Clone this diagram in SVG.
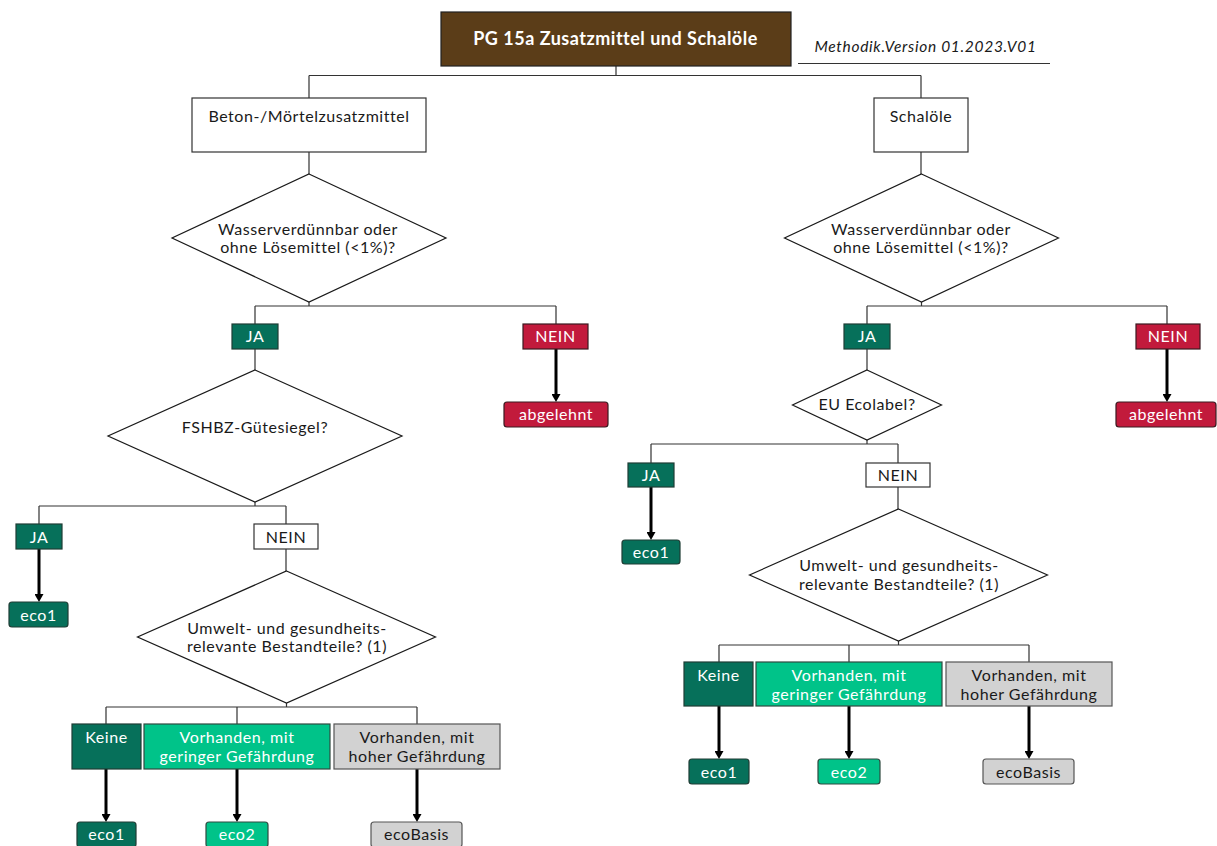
<svg xmlns="http://www.w3.org/2000/svg" width="1217" height="846" viewBox="0 0 1217 846">
<defs>
<style>
text{font-family:Lato,"Open Sans","Noto Sans",sans-serif;font-size:16px;letter-spacing:0.55px;text-anchor:middle;fill:#1a1a1a}
.w{fill:#fff}
.box{fill:#fff;stroke:#333;stroke-width:1.2}
.g{fill:#06705a;stroke:#1f3d35;stroke-width:1.2}
.r{fill:#c21a3c;stroke:#3a1a20;stroke-width:1.2}
.lg{fill:#00c389;stroke:#2f4a40;stroke-width:1.2}
.gr{fill:#d2d2d2;stroke:#555;stroke-width:1.2}
.dia{fill:#fff;stroke:#1a1a1a;stroke-width:1.2}
.ln{stroke:#333;stroke-width:1.2;fill:none}
.ar{stroke:#000;stroke-width:3;fill:none;marker-end:url(#ah)}
</style>
<marker id="ah" markerUnits="userSpaceOnUse" markerWidth="9" markerHeight="9" refX="2" refY="4.5" orient="auto">
<path d="M0,0 L8,4.5 L0,9 z" fill="#000"/>
</marker>
</defs>
<rect width="1217" height="846" fill="#fff"/>

<g id="connectors">
<path class="ln" d="M616,66 V75.5 M309,75.5 H921 M309,75.5 V98 M921,75.5 V98"/>
<path class="ln" d="M309,152 V174 M921,152 V174"/>
<path class="ln" d="M309,302 V306 M255,306 H556 M255,306 V324 M556,306 V324 M255,349 V370"/>
<path class="ar" d="M556,349 V396"/>
<path class="ln" d="M255,502 V506 M39,506 H286 M39,506 V524 M286,506 V524 M286,549 V571"/>
<path class="ar" d="M39,549 V596"/>
<path class="ln" d="M286.5,703 V707 M106,707 H417 M106,707 V724 M237,707 V724 M417,707 V724"/>
<path class="ar" d="M106,769 V816"/>
<path class="ar" d="M237,769 V816"/>
<path class="ar" d="M417,769 V816"/>
<path class="ln" d="M921.5,302 V306 M867,306 H1167 M867,306 V324 M1167,306 V324 M867,349 V370"/>
<path class="ar" d="M1167,349 V396"/>
<path class="ln" d="M867,440 V444 M651,444 H898 M651,444 V463 M898,444 V463 M898,487 V509"/>
<path class="ar" d="M651,487 V534"/>
<path class="ln" d="M898.5,641 V645 M719,645 H1029 M719,645 V662 M849,645 V662 M1029,645 V662"/>
<path class="ar" d="M719,706 V753"/>
<path class="ar" d="M849,706 V753"/>
<path class="ar" d="M1029,706 V753"/>
</g>

<g id="title">
<rect x="441" y="12" width="350" height="54" fill="#5b3d18" stroke="#222" stroke-width="1.2"/>
<text class="w" x="615.5" y="45" style="font-weight:bold;font-size:18px;letter-spacing:0.5px">PG 15a Zusatzmittel und Schalöle</text>
</g>
<g id="version">
<text x="925.5" y="52" style="font-style:italic;font-size:15.5px;letter-spacing:0.7px">Methodik.Version 01.2023.V01</text>
<line x1="798" y1="63.5" x2="1050" y2="63.5" stroke="#333" stroke-width="1.2"/>
</g>

<g id="beton">
<rect class="box" x="192" y="98" width="234" height="54"/>
<text x="309" y="121.5">Beton-/Mörtelzusatzmittel</text>
</g>
<g id="schaloele">
<rect class="box" x="874" y="98" width="94" height="54"/>
<text x="921" y="121.5">Schalöle</text>
</g>

<g id="q1-left">
<polygon class="dia" points="309,174 446,238 309,302 172,238"/>
<text x="308" y="235">Wasserverdünnbar oder</text>
<text x="308" y="253">ohne Lösemittel (&lt;1%)?</text>
</g>
<g id="ja1-left"><rect class="g" x="232" y="324" width="46" height="25"/><text class="w" x="255" y="342">JA</text></g>
<g id="nein1-left"><rect class="r" x="523" y="324" width="65" height="25"/><text class="w" x="555.5" y="342">NEIN</text></g>
<g id="abgelehnt-left"><rect class="r" x="504" y="402" width="104" height="25" rx="3"/><text class="w" x="556" y="420">abgelehnt</text></g>

<g id="q2-left">
<polygon class="dia" points="255,370 402,436 255,502 108,436"/>
<text x="255" y="433">FSHBZ-Gütesiegel?</text>
</g>
<g id="ja2-left"><rect class="g" x="16" y="524" width="46" height="25"/><text class="w" x="39" y="542.5">JA</text></g>
<g id="nein2-left"><rect class="box" x="254" y="524" width="64" height="25"/><text x="286" y="542.5">NEIN</text></g>
<g id="eco1-a"><rect class="g" x="9" y="602" width="59" height="25" rx="3"/><text class="w" x="38.5" y="621">eco1</text></g>

<g id="q3-left">
<polygon class="dia" points="286.5,571 435.5,637 286.5,703 137.5,637"/>
<text x="287" y="634">Umwelt- und gesundheits-</text>
<text x="287" y="652">relevante Bestandteile? (1)</text>
</g>
<g id="keine-left"><rect class="g" x="72" y="724" width="69" height="45"/><text class="w" x="106.5" y="743">Keine</text></g>
<g id="gering-left"><rect class="lg" x="144" y="724" width="186" height="45"/><text class="w" x="237" y="743">Vorhanden, mit</text><text class="w" x="237" y="762">geringer Gefährdung</text></g>
<g id="hoch-left"><rect class="gr" x="334" y="724" width="166" height="45"/><text x="417" y="743">Vorhanden, mit</text><text x="417" y="762">hoher Gefährdung</text></g>
<g id="eco1-b"><rect class="g" x="77" y="822" width="59" height="25" rx="3"/><text class="w" x="106.5" y="840">eco1</text></g>
<g id="eco2-a"><rect class="lg" x="206" y="822" width="62" height="25" rx="3"/><text class="w" x="237" y="840">eco2</text></g>
<g id="ecobasis-a"><rect class="gr" x="371" y="822" width="91" height="25" rx="3"/><text x="416.5" y="840">ecoBasis</text></g>

<g id="q1-right">
<polygon class="dia" points="921.5,174 1058.5,238 921.5,302 784.5,238"/>
<text x="921" y="235">Wasserverdünnbar oder</text>
<text x="921" y="253">ohne Lösemittel (&lt;1%)?</text>
</g>
<g id="ja1-right"><rect class="g" x="844" y="324" width="46" height="25"/><text class="w" x="867" y="342">JA</text></g>
<g id="nein1-right"><rect class="r" x="1136" y="324" width="64" height="25"/><text class="w" x="1168" y="342">NEIN</text></g>
<g id="abgelehnt-right"><rect class="r" x="1116" y="402" width="100" height="25" rx="3"/><text class="w" x="1166" y="420">abgelehnt</text></g>

<g id="q2-right">
<polygon class="dia" points="867,370 941.5,405 867,440 792.5,405"/>
<text x="867" y="410">EU Ecolabel?</text>
</g>
<g id="ja2-right"><rect class="g" x="628" y="463" width="46" height="24"/><text class="w" x="651" y="481">JA</text></g>
<g id="nein2-right"><rect class="box" x="866" y="463" width="64" height="24"/><text x="898" y="481">NEIN</text></g>
<g id="eco1-c"><rect class="g" x="622" y="540" width="58" height="24" rx="3"/><text class="w" x="651" y="558">eco1</text></g>

<g id="q3-right">
<polygon class="dia" points="898.5,509 1047.5,575 898.5,641 749.5,575"/>
<text x="899" y="571">Umwelt- und gesundheits-</text>
<text x="899" y="590">relevante Bestandteile? (1)</text>
</g>
<g id="keine-right"><rect class="g" x="684" y="662" width="69" height="44"/><text class="w" x="718.5" y="681">Keine</text></g>
<g id="gering-right"><rect class="lg" x="756" y="662" width="186" height="44"/><text class="w" x="849" y="681">Vorhanden, mit</text><text class="w" x="849" y="700">geringer Gefährdung</text></g>
<g id="hoch-right"><rect class="gr" x="946" y="662" width="166" height="44"/><text x="1029" y="681">Vorhanden, mit</text><text x="1029" y="700">hoher Gefährdung</text></g>
<g id="eco1-d"><rect class="g" x="689" y="759" width="60" height="25" rx="3"/><text class="w" x="719" y="777.5">eco1</text></g>
<g id="eco2-b"><rect class="lg" x="818" y="759" width="62" height="25" rx="3"/><text class="w" x="849" y="777.5">eco2</text></g>
<g id="ecobasis-b"><rect class="gr" x="983" y="759" width="91" height="25" rx="3"/><text x="1028.5" y="777.5">ecoBasis</text></g>
</svg>
